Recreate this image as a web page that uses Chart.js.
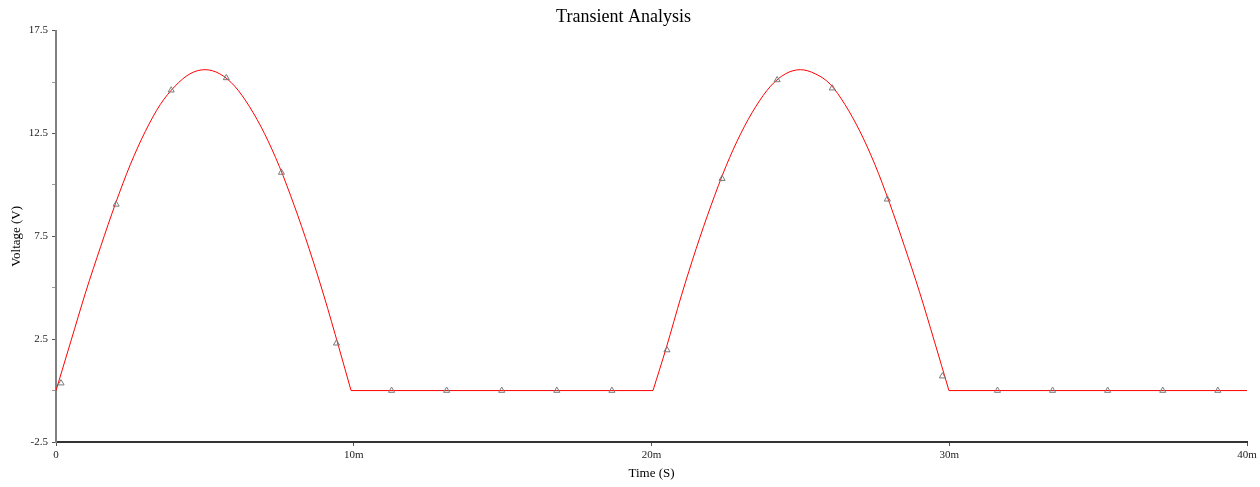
<!DOCTYPE html>
<html>
<head>
<meta charset="utf-8">
<script src="https://cdn.jsdelivr.net/npm/chart.js@4"></script>
<style>
  html, body { margin: 0; padding: 0; background: #ffffff; }
  #wrap { width: 1260px; height: 487px; }
</style>
</head>
<body>
<div id="wrap"><canvas id="c" width="1260" height="487"></canvas></div>
<script>
// Time in ms, voltage in V
const traceTime = [0, 0.5, 1, 1.5, 2, 2.5, 3, 3.5, 4, 4.5, 5, 5.5, 6, 6.5, 7, 7.5, 8, 8.5, 9, 9.5, 9.91,
                   20.05, 20.5, 21, 21.5, 22, 22.5, 23, 23.5, 24, 24.5, 25, 25.5, 26, 26.5, 27, 27.5, 28, 28.5, 29, 29.5, 29.99,
                   40];
const traceVolt = [0, 2.4, 4.8, 7.0, 9.1, 11.0, 12.6, 13.9, 14.8, 15.4, 15.6, 15.4, 14.8, 13.8, 12.5, 10.9, 9.0, 6.9, 4.6, 2.1, 0,
                   0, 2.1, 4.6, 6.9, 9.0, 10.9, 12.5, 13.8, 14.8, 15.4, 15.6, 15.4, 14.9, 13.9, 12.6, 11.0, 9.1, 7.0, 4.8, 2.4, 0,
                   0];
// index ranges of the trace drawn as separate smooth pieces (sharp corners between them)
const pieces = [[0, 20], [20, 21], [21, 41], [41, 42]];
const markerTime = [0.17, 2.02, 3.87, 5.72, 7.57, 9.42, 11.27, 13.12, 14.97, 16.82, 18.67,
                    20.52, 22.37, 24.22, 26.07, 27.92, 29.77, 31.62, 33.47, 35.32, 37.17, 39.02];
const markerVolt = [0.36, 9.05, 14.6, 15.2, 10.6, 2.3, 0, 0, 0, 0, 0,
                    1.97, 10.3, 15.1, 14.7, 9.3, 0.7, 0, 0, 0, 0, 0];
const yTickLabels = ['-2.5', '2.5', '7.5', '12.5', '17.5'];
const xTickLabels = ['0', '10m', '20m', '30m', '40m'];

const serif = "'Liberation Serif', 'Times New Roman', serif";

const markerPts = markerTime.map((t, i) => ({x: t, y: markerVolt[i]}));

const lineSets = pieces.map(([a, b]) => ({
  data: traceTime.slice(a, b + 1).map((t, k) => ({x: t, y: traceVolt[a + k]})),
  showLine: true,
  borderColor: '#ff0000',
  borderWidth: 1,
  pointRadius: 0,
  cubicInterpolationMode: 'monotone',
  order: 2
}));

new Chart(document.getElementById('c'), {
  type: 'scatter',
  data: {
    datasets: [
      ...lineSets,
      {
        data: markerPts,
        showLine: false,
        pointStyle: 'triangle',
        pointRadius: 3.5,
        pointBorderWidth: 1,
        pointBorderColor: '#7a7a7a',
        pointBackgroundColor: 'rgba(0,0,0,0)',
        order: 1
      }
    ]
  },
  options: {
    responsive: false,
    animation: false,
    layout: { padding: { left: 0, right: 13, top: 0, bottom: 0 } },
    plugins: {
      legend: { display: false },
      tooltip: { enabled: false },
      title: {
        display: true,
        text: 'Transient Analysis',
        color: '#000000',
        font: { family: serif, size: 18, weight: 'normal' },
        padding: { top: 6, bottom: 3 }
      }
    },
    scales: {
      x: {
        type: 'linear',
        min: 0, max: 40,
        afterFit: (s) => { s.height = 45; },
        afterBuildTicks: (s) => { s.ticks = xTickLabels.map((_, i) => ({value: i * 10})); },
        border: { display: true, color: '#333333', width: 2 },
        grid: { drawOnChartArea: false, drawTicks: true, tickLength: 4, color: '#555555' },
        ticks: {
          color: '#222222',
          font: { family: serif, size: 11 },
          padding: 3,
          maxRotation: 0,
          autoSkip: false,
          callback: (v, i) => xTickLabels[i]
        },
        title: {
          display: true,
          text: 'Time (S)',
          color: '#000000',
          font: { family: serif, size: 13 },
          padding: { top: 0, bottom: 6 }
        }
      },
      y: {
        type: 'linear',
        min: -2.5, max: 17.5,
        afterFit: (s) => { s.width = 56; },
        afterBuildTicks: (s) => {
          const t = [];
          for (let i = 0; i <= 8; i++) t.push({value: -2.5 + i * 2.5});
          s.ticks = t;
        },
        border: { display: true, color: '#808080', width: 2 },
        grid: {
          drawOnChartArea: false, drawTicks: true, tickLength: 4,
          color: (ctx) => (ctx.index % 2 === 0 ? '#555555' : '#999999'),
          tickWidth: 1
        },
        ticks: {
          color: '#222222',
          font: { family: serif, size: 11 },
          padding: 4,
          autoSkip: false,
          callback: (v, i) => (i % 2 === 0 ? yTickLabels[i / 2] : '')
        },
        title: {
          display: true,
          text: 'Voltage (V)',
          color: '#000000',
          font: { family: serif, size: 13 },
          padding: { top: 9, bottom: 0 }
        }
      }
    }
  }
});
</script>
</body>
</html>
